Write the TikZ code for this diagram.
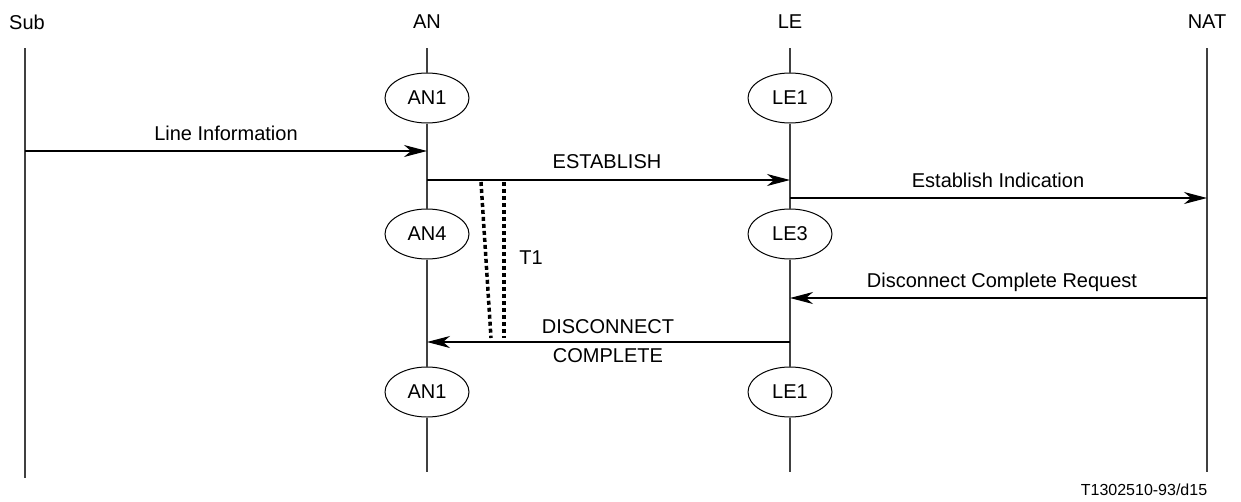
\documentclass[tikz,border=0pt]{standalone}
\usepackage{fontspec}
\setmainfont{Liberation Sans}
\usetikzlibrary{arrows.meta,shapes.geometric}
\begin{document}
\begin{tikzpicture}[x=1pt,y=-1pt,
  txt/.style={font=\fontsize{20}{24}\selectfont, inner sep=0pt},
  state/.style={ellipse, draw, line width=1pt, minimum width=84pt, minimum height=50pt, inner sep=0pt, font=\fontsize{20}{24}\selectfont, fill=white},
  life/.style={line width=1.2pt, draw=black!75},
  msg/.style={line width=1.2pt, -{Stealth[length=23pt, width=12pt, inset=7pt]}},
  timer/.style={line width=3.5pt, dash pattern=on 4pt off 3pt}]
\useasboundingbox (0,0) rectangle (1241,501);
% headers
\node[txt] (hSub) at (27,22) {Sub};
\node[txt] (hAN) at (427,22) {AN};
\node[txt] (hLE) at (790,22) {LE};
\node[txt] (hNAT) at (1207,22) {NAT};
% lifeline ends
\coordinate (subT) at (25,48); \coordinate (subB) at (25,478);
\coordinate (anT) at (427,48); \coordinate (anB) at (427,472);
\coordinate (leT) at (790,48); \coordinate (leB) at (790,472);
\coordinate (natT) at (1207,48); \coordinate (natB) at (1207,472);
% states
\node[state] (an1) at (427,98) {AN1};
\node[state] (an4) at (427,234) {AN4};
\node[state] (an1b) at (427,392) {AN1};
\node[state] (le1) at (790,98) {LE1};
\node[state] (le3) at (790,234) {LE3};
\node[state] (le1b) at (790,392) {LE1};
% lifelines
\draw[life] (subT) -- (subB);
\draw[life] (natT) -- (natB);
\draw[life] (anT) -- (an1.north);
\draw[life] (an1.south) -- (an4.north);
\draw[life] (an4.south) -- (an1b.north);
\draw[life] (an1b.south) -- (anB);
\draw[life] (leT) -- (le1.north);
\draw[life] (le1.south) -- (le3.north);
\draw[life] (le3.south) -- (le1b.north);
\draw[life] (le1b.south) -- (leB);
% message anchor points
\coordinate (m1s) at (25,151); \coordinate (m1e) at (427,151);
\coordinate (m2s) at (427,180); \coordinate (m2e) at (790,180);
\coordinate (m3s) at (790,198); \coordinate (m3e) at (1207,198);
\coordinate (m4s) at (1207,298); \coordinate (m4e) at (790,298);
\coordinate (m5s) at (790,342); \coordinate (m5e) at (427,342);
\draw[msg] (m1s) -- (m1e);
\draw[msg] (m2s) -- (m2e);
\draw[msg] (m3s) -- (m3e);
\draw[msg] (m4s) -- (m4e);
\draw[msg] (m5s) -- (m5e);
% labels
\node[txt] (l1) at (226,133) {Line Information};
\node[txt] (l2) at (607,162) {ESTABLISH};
\node[txt] (l3) at (998,180) {Establish Indication};
\node[txt] (l4) at (1002,282) {Disconnect Complete Request};
\node[txt] (l5a) at (608,327) {DISCONNECT};
\node[txt] (l5b) at (608,356) {COMPLETE};
% timer
\coordinate (t1a) at (481,182); \coordinate (t1b) at (491,338);
\coordinate (t2a) at (504,182); \coordinate (t2b) at (504,338);
\draw[timer] (t1a) -- (t1b);
\draw[timer] (t2a) -- (t2b);
\node[txt] (t1) at (531,258) {T1};
% footer
\node[font=\fontsize{16}{19}\selectfont, inner sep=0pt] (foot) at (1144,490) {T1302510-93/d15};
\end{tikzpicture}
\end{document}
